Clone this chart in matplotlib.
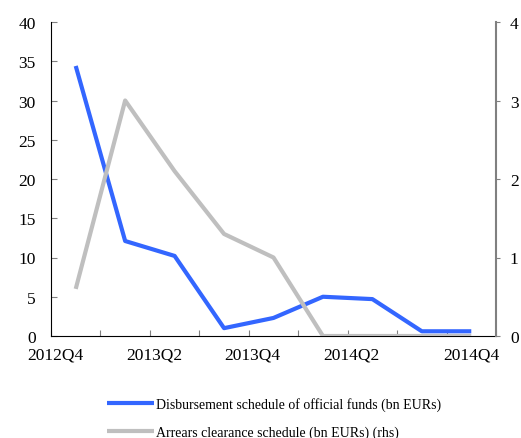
import numpy as np
import matplotlib
matplotlib.use('Agg')
import matplotlib.pyplot as plt

quarters = ['2012Q4', '2013Q1', '2013Q2', '2013Q3', '2013Q4',
            '2014Q1', '2014Q2', '2014Q3', '2014Q4']
disbursement = [34.4, 12.1, 10.2, 1.0, 2.3, 5.0, 4.7, 0.6, 0.6]
arrears = [0.6, 3.0, 2.1, 1.3, 1.0, 0.0, 0.0, 0.0, 0.0]
label_quarters = ['2012Q4', '2013Q2', '2013Q4', '2014Q2', '2014Q4']

plt.rcParams['font.family'] = ['Liberation Serif', 'DejaVu Serif']

fig = plt.figure(figsize=(5.21, 4.39), dpi=100)
ax = fig.add_axes([51/521, 1-337/439, 445/521, 314/439])
ax2 = ax.twinx()

x = np.arange(len(quarters))
l1, = ax.plot(x, disbursement, color='#3366FF', lw=3, solid_capstyle='butt',
              label='Disbursement schedule of official funds (bn EURs)')
l2, = ax2.plot(x, arrears, color='#BFBFBF', lw=3, solid_capstyle='butt',
               label='Arrears clearance schedule (bn EURs) (rhs)')

ax.set_xlim(-0.5, len(quarters) - 0.5)
ax.set_ylim(0, 40)
ax2.set_ylim(0, 4)
ax.set_yticks(np.arange(0, 41, 5))
ax2.set_yticks(np.arange(0, 5, 1))

# category boundaries as tick marks, labels every second quarter
ax.set_xticks(np.arange(-0.5, len(quarters), 1.0))
ax.set_xticklabels([])
ax.tick_params(axis='x', direction='in', length=4, color='#808080')
for q in label_quarters:
    i = quarters.index(q)
    pos = i if i == len(quarters) - 1 else i - 0.42
    ax.text(pos, -0.035, q, transform=ax.get_xaxis_transform(),
            ha='center', va='top', fontsize=12.5)

ax.tick_params(axis='y', direction='in', length=4, color='#808080', labelsize=12.5, pad=11)
ax2.tick_params(axis='y', direction='out', length=3, color='#808080', labelsize=12.5, pad=7)

for a in (ax, ax2):
    a.spines['top'].set_visible(False)
ax2.spines['left'].set_visible(False)
ax2.spines['bottom'].set_visible(False)
ax.spines['right'].set_visible(False)
ax.spines['left'].set_color('black')
ax.spines['bottom'].set_color('black')
ax2.spines['right'].set_color('#808080')
ax2.spines['right'].set_linewidth(1.5)

fig.legend(handles=[l1, l2], loc='upper left', bbox_to_anchor=(94/521, 1-386/439),
           frameon=False, fontsize=10, handlelength=3.4, handletextpad=0.2,
           labelspacing=1.0)

fig.savefig('out.png', dpi=100)
